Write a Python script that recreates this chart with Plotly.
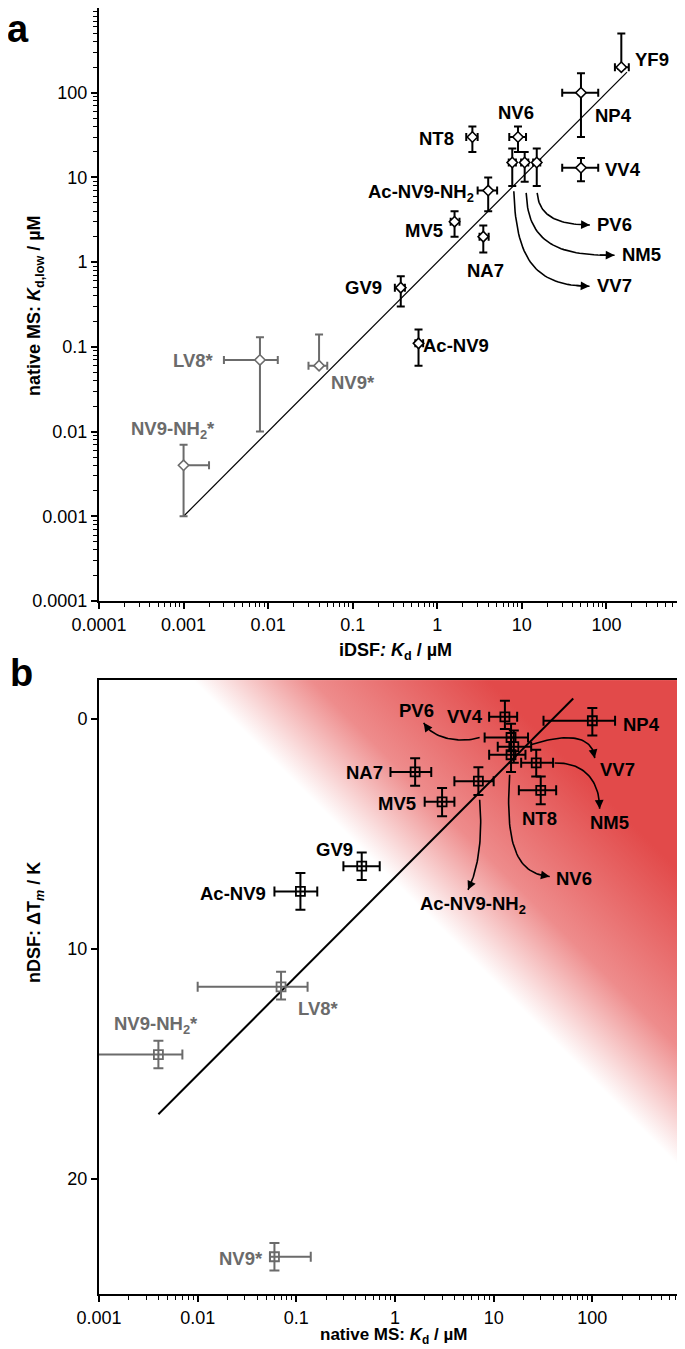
import base64
import numpy as np
import plotly.graph_objects as go

# ---------------- Panel a data (iDSF Kd vs native MS Kd,low) ----------------
a_names = ["YF9", "NP4", "NV6", "NT8", "VV7", "NM5", "PV6", "VV4",
           "Ac-NV9-NH2", "MV5", "NA7", "GV9", "Ac-NV9"]
a_x = [150, 50, 9, 2.6, 7.7, 10.8, 15, 50, 4, 1.6, 3.5, 0.37, 0.6]
a_x_lo = [126, 30, 7.1, 2.2, 7.0, 9.8, 13.6, 30, 3.0, 1.44, 3.16, 0.315, 0.55]
a_x_hi = [184, 80, 11.2, 3.0, 8.5, 11.9, 16.5, 80, 5.1, 1.83, 4.05, 0.414, 0.68]
a_y = [200, 100, 30, 30, 15, 15, 15, 13, 7, 3, 2, 0.5, 0.11]
a_y_lo = [190, 30, 20, 20, 7.9, 8.9, 7.9, 9, 4, 2, 1.3, 0.3, 0.06]
a_y_hi = [500, 170, 40, 40, 22, 20, 22, 17, 10, 4, 2.7, 0.68, 0.16]

a_star_names = ["LV8*", "NV9*", "NV9-NH2*"]
a_star_x = [0.008, 0.04, 0.001]
a_star_x_lo = [0.003, 0.03, 0.001]
a_star_x_hi = [0.013, 0.05, 0.002]
a_star_y = [0.07, 0.06, 0.004]
a_star_y_lo = [0.01, 0.06, 0.001]
a_star_y_hi = [0.13, 0.14, 0.007]

a_fit_x = [0.001, 175]
a_fit_y = [0.001, 175]

# ---------------- Panel b data (native MS Kd vs nDSF dTm) ----------------
b_names = ["NP4", "VV4", "PV6", "VV7", "NV6", "NM5", "NT8", "Ac-NV9-NH2",
           "NA7", "MV5", "GV9", "Ac-NV9"]
b_x = [100, 13, 15, 16, 15, 27, 30, 7, 1.6, 3, 0.46, 0.11]
b_x_lo = [32, 9, 8.1, 11, 9, 19, 18, 4, 0.9, 2.0, 0.30, 0.06]
b_x_hi = [170, 17.3, 22.3, 24, 21, 40, 43, 10, 2.33, 4.0, 0.70, 0.163]
b_y = [0.07, -0.1, 0.8, 1.2, 1.55, 1.9, 3.1, 2.7, 2.3, 3.6, 6.4, 7.5]
b_y_lo = [-0.48, -0.8, 0.2, 0.5, 0.8, 1.33, 2.5, 2.1, 1.7, 3.0, 5.8, 6.7]
b_y_hi = [0.71, 0.43, 1.4, 1.9, 2.3, 2.5, 3.7, 3.3, 2.9, 4.23, 7.0, 8.3]

b_star_names = ["LV8*", "NV9-NH2*", "NV9*"]
b_star_x = [0.07, 0.004, 0.06]
b_star_x_lo = [0.01, 0.0005, 0.054]
b_star_x_hi = [0.13, 0.007, 0.14]
b_star_y = [11.65, 14.6, 23.4]
b_star_y_lo = [11.0, 14.0, 22.8]
b_star_y_hi = [12.2, 15.2, 24.0]

b_fit_x = [0.004, 64]
b_fit_y = [17.2, -0.9]

# tick labels
a_tick_vals = [0.0001, 0.001, 0.01, 0.1, 1, 10, 100]
a_tick_text = ["0.0001", "0.001", "0.01", "0.1", "1", "10", "100"]
b_xtick_vals = [0.001, 0.01, 0.1, 1, 10, 100]
b_xtick_text = ["0.001", "0.01", "0.1", "1", "10", "100"]
b_ytick_vals = [0, 10, 20]

BLACK = "#000000"
GRAY = "#6b6b6b"
FONT = "Liberation Sans, Arial, sans-serif"


def minor_vals(lo, hi):
    out = []
    for e in range(lo, hi):
        for m in range(2, 10):
            out.append(m * 10.0 ** e)
    return out


def errs(v, lo, hi):
    v = np.array(v, float)
    return dict(type="data", symmetric=False, array=list(np.array(hi) - v),
                arrayminus=list(v - np.array(lo)))


fig = go.Figure()

# fit lines
fig.add_trace(go.Scatter(x=a_fit_x, y=a_fit_y, mode="lines", line=dict(color=BLACK, width=1.2),
                         xaxis="x", yaxis="y", showlegend=False, hoverinfo="skip"))
fig.add_trace(go.Scatter(x=b_fit_x, y=b_fit_y, mode="lines", line=dict(color=BLACK, width=2),
                         xaxis="x2", yaxis="y2", showlegend=False, hoverinfo="skip"))

# panel a points
for xs, xl, xh, ys, yl, yh, col in [
    (a_x, a_x_lo, a_x_hi, a_y, a_y_lo, a_y_hi, BLACK),
    (a_star_x, a_star_x_lo, a_star_x_hi, a_star_y, a_star_y_lo, a_star_y_hi, GRAY),
]:
    ex = errs(xs, xl, xh); ex.update(color=col, thickness=2, width=4)
    ey = errs(ys, yl, yh); ey.update(color=col, thickness=2, width=4)
    fig.add_trace(go.Scatter(x=xs, y=ys, mode="markers", xaxis="x", yaxis="y",
                             marker=dict(symbol="diamond", size=8, color="white",
                                         line=dict(color=col, width=1.6)),
                             error_x=ex, error_y=ey, showlegend=False))

# panel b points
for xs, xl, xh, ys, yl, yh, col in [
    (b_x, b_x_lo, b_x_hi, b_y, b_y_lo, b_y_hi, BLACK),
    (b_star_x, b_star_x_lo, b_star_x_hi, b_star_y, b_star_y_lo, b_star_y_hi, GRAY),
]:
    ex = errs(xs, xl, xh); ex.update(color=col, thickness=2, width=5)
    ey = errs(ys, yl, yh); ey.update(color=col, thickness=2, width=5)
    fig.add_trace(go.Scatter(x=xs, y=ys, mode="markers", xaxis="x2", yaxis="y2",
                             marker=dict(symbol="square-open", size=9, color=col,
                                         line=dict(color=col, width=1.8)),
                             error_x=ex, error_y=ey, showlegend=False))

# ---------------- curved arrows (control points: log10 x, y-axis units) ----------------
arrows_a = [  # (p0, p1, p2, p3) in (log10 x, log10 y)
    ((1.181, 0.817), (1.201, 0.545), (1.426, 0.439), (1.804, 0.439)),
    ((1.051, 0.817), (1.071, 0.227), (1.426, 0.073), (2.096, 0.081)),
    ((0.905, 0.837), (0.929, -0.009), (1.189, -0.281), (1.800, -0.285)),
]
arrows_b = [  # (log10 x, dTm)
    ((0.858, 0.80), (0.689, 1.04), (0.385, 0.91), (0.291, 0.16)),
    ((1.375, 1.12), (1.753, 0.57), (2.007, 0.74), (2.024, 1.70)),
    ((1.618, 1.91), (1.936, 1.87), (2.077, 2.79), (2.074, 3.90)),
    ((1.162, 2.42), (1.115, 5.40), (1.226, 6.74), (1.568, 6.85)),
    ((0.858, 3.51), (0.892, 5.18), (0.841, 6.57), (0.740, 7.43)),
]


def bez(p, t):
    p0, p1, p2, p3 = [np.array(q, float) for q in p]
    t = np.asarray(t)[..., None]
    return ((1 - t) ** 3) * p0 + 3 * ((1 - t) ** 2) * t * p1 + 3 * (1 - t) * t * t * p2 + (t ** 3) * p3


annotations = []
tt = np.linspace(0, 1, 40)
for p in arrows_a:
    pts = bez(p, tt)
    fig.add_trace(go.Scatter(x=10 ** pts[:, 0], y=10 ** pts[:, 1], mode="lines",
                             line=dict(color=BLACK, width=1.6), xaxis="x", yaxis="y",
                             showlegend=False, hoverinfo="skip"))
    tail = bez(p, [0.9])[0]
    annotations.append(dict(x=p[3][0], y=p[3][1], ax=tail[0], ay=tail[1], xref="x", yref="y",
                            axref="x", ayref="y", showarrow=True, arrowhead=2, arrowsize=1.1,
                            arrowwidth=1.6, arrowcolor=BLACK, text="", standoff=0))
for p in arrows_b:
    pts = bez(p, tt)
    fig.add_trace(go.Scatter(x=10 ** pts[:, 0], y=pts[:, 1], mode="lines",
                             line=dict(color=BLACK, width=1.6), xaxis="x2", yaxis="y2",
                             showlegend=False, hoverinfo="skip"))
    tail = bez(p, [0.9])[0]
    annotations.append(dict(x=p[3][0], y=p[3][1], ax=tail[0], ay=tail[1], xref="x2", yref="y2",
                            axref="x2", ayref="y2", showarrow=True, arrowhead=2, arrowsize=1.1,
                            arrowwidth=1.6, arrowcolor=BLACK, text="", standoff=0))

# ---------------- point labels ----------------
def lab(text, lx, ly, anchor, panel, color=BLACK):
    return dict(text="<b>" + text + "</b>", x=lx, y=ly, xref="x" if panel == "a" else "x2",
                yref="y" if panel == "a" else "y2", showarrow=False, xanchor=anchor,
                yanchor="middle", font=dict(family=FONT, size=18.5, color=color))

NH2 = "NH<sub>2</sub>"
labels = [
    ("YF9", 2.312, 2.387, "left", "a", BLACK),
    ("NP4", 1.839, 1.726, "left", "a", BLACK),
    ("NV6", 0.929, 1.761, "center", "a", BLACK),
    ("NT8", 0.220, 1.458, "right", "a", BLACK),
    ("VV4", 1.957, 1.092, "left", "a", BLACK),
    ("Ac-NV9-" + NH2, 0.456, 0.817, "right", "a", BLACK),
    ("PV6", 1.863, 0.439, "left", "a", BLACK),
    ("MV5", 0.090, 0.368, "right", "a", BLACK),
    ("NM5", 2.158, 0.085, "left", "a", BLACK),
    ("NA7", 0.574, -0.104, "center", "a", BLACK),
    ("VV7", 1.863, -0.281, "left", "a", BLACK),
    ("GV9", -0.631, -0.305, "right", "a", BLACK),
    ("Ac-NV9", -0.194, -0.989, "left", "a", BLACK),
    ("LV8*", -2.617, -1.166, "right", "a", GRAY),
    ("NV9*", -0.998, -1.426, "center", "a", GRAY),
    ("NV9-" + NH2 + "*", -3.125, -1.981, "center", "a", GRAY),
    ("PV6", 0.213, -0.36, "center", "b", BLACK),
    ("VV4", 0.709, -0.12, "center", "b", BLACK),
    ("NP4", 2.287, 0.25, "left", "b", BLACK),
    ("NA7", -0.101, 2.31, "right", "b", BLACK),
    ("MV5", 0.233, 3.66, "right", "b", BLACK),
    ("VV7", 2.260, 2.21, "center", "b", BLACK),
    ("NT8", 1.469, 4.31, "center", "b", BLACK),
    ("NM5", 2.179, 4.48, "center", "b", BLACK),
    ("NV6", 1.814, 6.95, "center", "b", BLACK),
    ("GV9", -0.618, 5.66, "center", "b", BLACK),
    ("Ac-NV9-" + NH2, 0.790, 8.09, "center", "b", BLACK),
    ("Ac-NV9", -1.287, 7.57, "right", "b", BLACK),
    ("LV8*", -0.780, 12.6, "center", "b", GRAY),
    ("NV9-" + NH2 + "*", -2.422, 13.3, "center", "b", GRAY),
    ("NV9*", -1.318, 23.49, "right", "b", GRAY),
]
for t, lx, ly, anc, pan, col in labels:
    annotations.append(lab(t, lx, ly, anc, pan, col))

# axis titles & panel letters
tf = dict(family=FONT, size=18, color=BLACK)
annotations += [
    dict(text="<b>iDSF<i>:</i> <i>K</i><sub>d</sub> / µM</b>", x=0.5, y=0.5, xref="paper", yref="paper",
         showarrow=False, xanchor="center", yanchor="middle", font=tf),
    dict(text="<b>native MS: <i>K</i><sub>d</sub> / µM</b>", x=0.497, y=-0.0328, xref="paper", yref="paper",
         showarrow=False, xanchor="center", yanchor="middle", borderpad=0,
         font=dict(family=FONT, size=17, color=BLACK)),
    dict(text="<b>native MS: <i>K</i><sub>d,low</sub> / µM</b>", x=-0.1064, y=0.7683, xref="paper",
         yref="paper", showarrow=False, textangle=-90, xanchor="center", yanchor="middle", font=tf),
    dict(text="<b>nDSF: ΔT<sub><i>m</i></sub> / K</b>", x=-0.1064, y=0.2885, xref="paper",
         yref="paper", showarrow=False, textangle=-90, xanchor="center", yanchor="middle", font=tf),
    dict(text="<b>a</b>", x=-0.137, y=0.984, xref="paper", yref="paper", showarrow=False,
         xanchor="center", yanchor="middle", font=dict(family=FONT, size=38, color=BLACK)),
    dict(text="<b>b</b>", x=-0.131, y=0.483, xref="paper", yref="paper", showarrow=False,
         xanchor="center", yanchor="middle", font=dict(family=FONT, size=38, color=BLACK)),
]

# gradient background for panel b
W, H = 592, 614
svg = (f'<svg xmlns="http://www.w3.org/2000/svg" width="{W}" height="{H}" viewBox="0 0 {W} {H}" '
       f'preserveAspectRatio="none"><defs><linearGradient id="g" gradientUnits="userSpaceOnUse" '
       f'x1="300" y1="206" x2="447.5" y2="58.5">'
       f'<stop offset="0" stop-color="#ffffff"/><stop offset="0.4" stop-color="rgb(238,140,140)"/>'
       f'<stop offset="1" stop-color="rgb(226,74,74)"/></linearGradient></defs>'
       f'<rect width="{W}" height="{H}" fill="url(#g)"/></svg>')
src = "data:image/svg+xml;base64," + base64.b64encode(svg.encode()).decode()

tickfont = dict(family=FONT, size=18, color=BLACK)
common = dict(showgrid=False, zeroline=False, showline=True, linewidth=2, linecolor=BLACK,
              ticks="outside", ticklen=6, tickwidth=1.6, tickcolor=BLACK, tickfont=tickfont)
minor_a = dict(tickvals=minor_vals(-4, 3), ticks="outside", ticklen=4, tickwidth=1.3,
               tickcolor=BLACK, showgrid=False)
minor_b = dict(tickvals=minor_vals(-3, 3), ticks="outside", ticklen=4, tickwidth=1.3,
               tickcolor=BLACK, showgrid=False)

fig.update_layout(
    width=685, height=1349,
    margin=dict(l=91, r=2, t=0, b=63),
    paper_bgcolor="white", plot_bgcolor="rgba(0,0,0,0)",
    font=dict(family=FONT, color=BLACK),
    showlegend=False,
    xaxis=dict(type="log", range=[-4, 3], domain=[0, 1], anchor="y", tickmode="array",
               tickvals=a_tick_vals, ticktext=a_tick_text, minor=minor_a, **common),
    yaxis=dict(type="log", range=[-4, 3], domain=[0.5389, 1], anchor="x", tickmode="array",
               tickvals=a_tick_vals, ticktext=a_tick_text, minor=minor_a, **common),
    xaxis2=dict(type="log", range=[-3, 3], domain=[0, 1], anchor="y2", tickmode="array",
                tickvals=b_xtick_vals, ticktext=b_xtick_text, minor=minor_b, mirror=True, **common),
    yaxis2=dict(range=[25.02, -1.7], domain=[0, 0.4774], anchor="x2", tickmode="array",
                tickvals=b_ytick_vals, mirror=True, **common),
    annotations=annotations,
    images=[dict(source=src, xref="paper", yref="paper", x=0, y=0.4774, sizex=1, sizey=0.4774,
                 xanchor="left", yanchor="top", sizing="stretch", layer="below")],
)

fig.write_html("out.html")
